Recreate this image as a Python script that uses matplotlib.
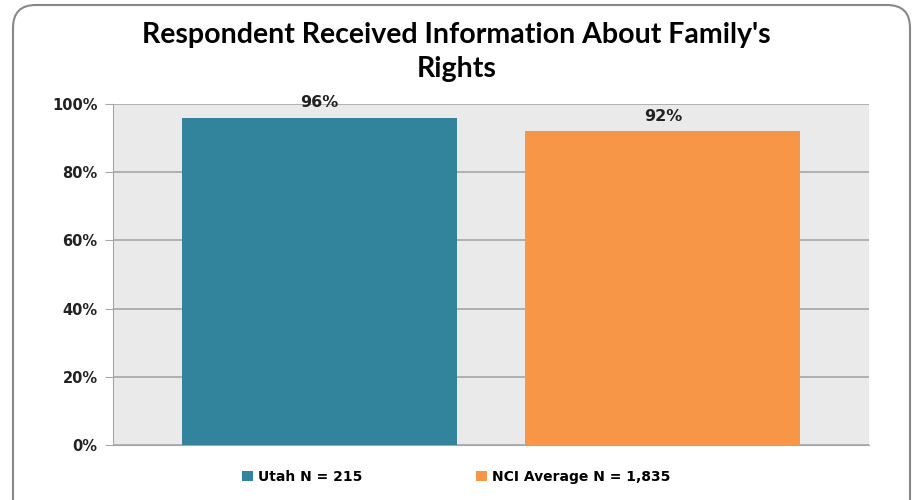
import matplotlib.pyplot as plt
from matplotlib.patches import FancyBboxPatch, Patch

series = ["Utah N = 215", "NCI Average N = 1,835"]
values = [96, 92]
colors = ["#31849B", "#F79646"]
yticks = [0, 20, 40, 60, 80, 100]

fig = plt.figure(figsize=(9.13, 5), dpi=100)
fig.patch.set_facecolor("white")

# rounded frame around the chart
frame = FancyBboxPatch((13 / 913, -0.05), (910 - 13) / 913, 1.04, boxstyle="round,pad=0,rounding_size=0.025",
                       transform=fig.transFigure, fill=False, edgecolor="#888888", linewidth=1.5,
                       mutation_aspect=913 / 500)
fig.patches.append(frame)

ax = fig.add_axes([113 / 913, 1 - 445 / 500, (869 - 113) / 913, (445 - 104) / 500])
ax.set_facecolor("#EAEAEA")
ax.set_axisbelow(True)

x = list(range(len(values)))
ax.bar(x, values, width=0.8, color=colors, zorder=2)
for xi, v in zip(x, values):
    ax.text(xi, v + 2.2, f"{v}%", ha="center", va="bottom", fontsize=11.5,
            fontweight="bold", family="DejaVu Sans", color="#222222")

ax.set_xlim(-0.6, 1.6)
ax.set_ylim(0, 100)
ax.set_yticks(yticks)
ax.set_yticklabels([f"{t}%" for t in yticks], fontsize=10.5, fontweight="bold", color="#222222")
ax.set_xticks([])
ax.grid(axis="y", color="#A6A6A6", linewidth=1.2)
for s in ["top", "right"]:
    ax.spines[s].set_visible(False)
ax.spines["bottom"].set_color("#A6A6A6")
ax.spines["left"].set_color("#A6A6A6")
ax.tick_params(axis="y", length=6, color="#A6A6A6", pad=5)

fig.text(0.5, 1 - 52 / 500, "Respondent Received Information About Family's\nRights", ha="center",
         va="center", fontsize=20.5, fontweight="bold", family="Lato", linespacing=1.4)

handles = [Patch(facecolor=c) for c in colors]
leg = fig.legend(handles, series, loc="center", bbox_to_anchor=(0.5, 1 - 477 / 500), ncol=2,
                 frameon=False, prop={"weight": "bold", "size": 10}, handlelength=0.75,
                 handleheight=0.75, handletextpad=0.4, columnspacing=8.2)

fig.savefig("out.png", dpi=100)
